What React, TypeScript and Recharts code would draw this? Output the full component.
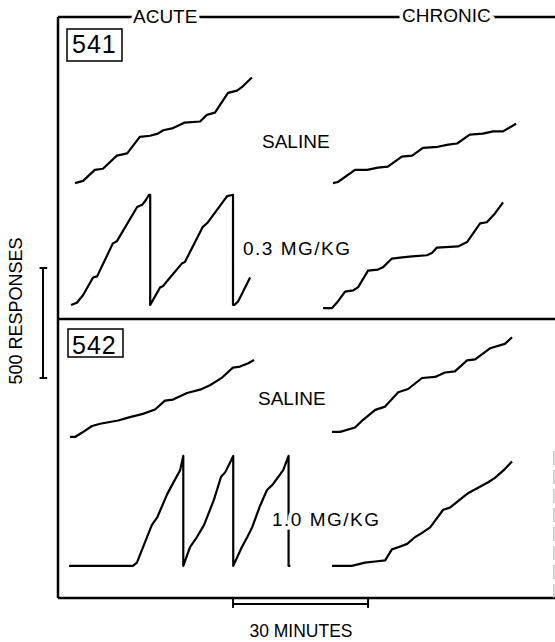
import { Line, LineChart, ReferenceLine, XAxis, YAxis } from "recharts";

// cumulative records: [minutes since record start, responses since last pen reset]
const acuteSaline541: [number, number][] = [
  [0, 0], [1.8, 10], [4.4, 60], [6.2, 65], [9.3, 125], [11.6, 135], [14.4, 210],
  [16.7, 215], [18.4, 225], [19.6, 240], [21.8, 250], [24.4, 275], [27.8, 280],
  [29.3, 310], [31.1, 320], [34.0, 410], [36.0, 420], [37.3, 440], [39.3, 480],
];
const chronicSaline541: [number, number][] = [
  [0, 0], [1.1, 5], [4.9, 60], [7.6, 60], [10.0, 70], [12.2, 75], [15.3, 120],
  [17.6, 125], [20.0, 160], [23.3, 165], [25.6, 175], [27.6, 180], [30.4, 220],
  [33.3, 225], [35.6, 235], [37.8, 235], [40.7, 270],
];
const acuteDose541: [number, number][] = [
  [0, 0], [1.3, 10], [2.7, 45], [4.9, 125], [5.8, 130], [9.3, 280], [10.2, 290],
  [14.7, 445], [15.8, 455], [16.4, 470], [17.3, 500], [17.6, 500], [17.6, 0],
  [19.8, 80], [20.4, 85], [24.7, 190], [25.3, 195], [29.3, 355], [30.4, 375],
  [34.7, 495], [35.8, 500], [36.0, 500], [36.0, 0], [36.3, 0], [37.1, 15], [39.8, 125],
];
const chronicDose541: [number, number][] = [
  [0, 0], [2.0, 0], [3.1, 25], [4.9, 75], [6.7, 80], [7.8, 95], [10.0, 170],
  [12.2, 175], [13.3, 185], [15.3, 225], [17.6, 230], [19.8, 235], [23.1, 240],
  [24.2, 250], [25.3, 275], [30.0, 280], [32.0, 300], [34.9, 385], [36.4, 390],
  [38.2, 430], [40.0, 480],
];
const acuteSaline542: [number, number][] = [
  [0, 0], [1.1, 0], [2.7, 20], [4.9, 50], [6.7, 60], [10.7, 75], [13.3, 90],
  [16.2, 105], [18.9, 125], [21.1, 165], [22.9, 170], [26.0, 200], [28.9, 215],
  [31.1, 235], [33.8, 270], [36.2, 315], [37.8, 320], [39.6, 335], [40.9, 350],
];
const chronicSaline542: [number, number][] = [
  [0, 0], [1.8, 0], [5.1, 20], [6.9, 55], [9.6, 100], [11.8, 115], [14.7, 180],
  [16.9, 195], [20.0, 245], [22.9, 250], [25.1, 270], [27.3, 275], [30.0, 325],
  [31.8, 330], [35.1, 380], [38.4, 400], [40.0, 430],
];
const acuteDose542: [number, number][] = [
  [0, 0], [14.2, 0], [15.1, 15], [18.4, 185], [19.6, 220], [21.8, 325], [23.1, 375],
  [24.7, 435], [25.4, 500], [25.4, 0], [26.9, 85], [28.4, 130], [30.0, 185],
  [32.2, 300], [33.8, 405], [34.7, 425], [35.8, 470], [36.5, 500], [36.5, 0],
  [38.4, 85], [39.6, 130], [40.7, 175], [42.4, 270], [44.0, 345], [45.3, 370],
  [47.6, 435], [48.8, 500], [48.8, 0], [49.2, 0],
];
const chronicDose542: [number, number][] = [
  [0, 0], [4.4, 0], [7.3, 15], [9.6, 20], [11.8, 25], [13.3, 75], [14.7, 85],
  [16.7, 100], [18.4, 130], [20.0, 150], [21.8, 175], [24.7, 255], [26.2, 265],
  [29.6, 320], [30.2, 330], [34.7, 380], [36.2, 400], [38.4, 440], [40.0, 475],
];

// where each pen starts on the sheet: [minutes from left edge, responses above bottom edge]
const records = [
  { key: "a541s", points: acuteSaline541, start: [3.78, 1886] },
  { key: "c541s", points: chronicSaline541, start: [61.1, 1886] },
  { key: "a541d", points: acuteDose541, start: [2.89, 1332] },
  { key: "c541d", points: chronicDose541, start: [58.9, 1318] },
  { key: "a542s", points: acuteSaline542, start: [2.67, 732] },
  { key: "c542s", points: chronicSaline542, start: [60.9, 755] },
  { key: "a542d", points: acuteDose542, start: [2.44, 146] },
  { key: "c542d", points: chronicDose542, start: [60.9, 146] },
];

const W = 555;
const H = 642;
const margin = { top: 17, right: 0, bottom: 44, left: 58 };
const PX_PER_MIN = 4.5;
const PX_PER_RESP = 0.22;
const X_MAX = (W - margin.left - margin.right) / PX_PER_MIN;
const Y_MAX = (H - margin.top - margin.bottom) / PX_PER_RESP;

const font = "'Liberation Sans', Arial, Helvetica, sans-serif";
const halo = { stroke: "#fff", strokeWidth: 7, paintOrder: "stroke" as const };

export default function App() {
  return (
    <div style={{ position: "absolute", left: 0, top: 0, width: W, height: H, background: "#fff" }}>
      <LineChart width={W} height={H} margin={margin}>
        <XAxis type="number" dataKey="x" domain={[0, X_MAX]} allowDataOverflow hide />
        <YAxis type="number" domain={[0, Y_MAX]} allowDataOverflow hide />
        {/* frame */}
        <ReferenceLine x={0} stroke="#000" strokeWidth={2.5} ifOverflow="visible" />
        <ReferenceLine y={0} stroke="#000" strokeWidth={2.5} ifOverflow="visible" />
        <ReferenceLine y={Y_MAX} stroke="#000" strokeWidth={2.5} ifOverflow="visible" />
        <ReferenceLine y={1268} stroke="#000" strokeWidth={2.5} />
        <ReferenceLine
          segment={[{ x: 110.2, y: 0 }, { x: 110.2, y: 673 }]}
          stroke="#aaa"
          strokeWidth={1}
          strokeDasharray="14 5"
          ifOverflow="visible"
        />
        {/* 500 responses scale bar */}
        <ReferenceLine segment={[{ x: -3.33, y: 1000 }, { x: -3.33, y: 1500 }]} stroke="#000" strokeWidth={2} ifOverflow="visible" />
        <ReferenceLine segment={[{ x: -4.1, y: 1500 }, { x: -2.4, y: 1500 }]} stroke="#000" strokeWidth={2} ifOverflow="visible" />
        <ReferenceLine segment={[{ x: -4.1, y: 1000 }, { x: -2.4, y: 1000 }]} stroke="#000" strokeWidth={2} ifOverflow="visible" />
        {/* 30 minutes scale bar */}
        <ReferenceLine segment={[{ x: 38.9, y: -27 }, { x: 68.9, y: -27 }]} stroke="#000" strokeWidth={2} ifOverflow="visible" />
        <ReferenceLine segment={[{ x: 38.9, y: 0 }, { x: 38.9, y: -45 }]} stroke="#000" strokeWidth={2} ifOverflow="visible" />
        <ReferenceLine segment={[{ x: 68.9, y: 0 }, { x: 68.9, y: -45 }]} stroke="#000" strokeWidth={2} ifOverflow="visible" />
        {records.map((rec) => (
          <Line
            key={rec.key}
            data={rec.points.map(([t, r]) => ({ x: rec.start[0] + t, y: rec.start[1] + r }))}
            dataKey="y"
            type="linear"
            stroke="#000"
            strokeWidth={2.2}
            strokeLinejoin="round"
            dot={false}
            activeDot={false}
            isAnimationActive={false}
          />
        ))}
      </LineChart>
      <svg
        width={W}
        height={H}
        style={{ position: "absolute", left: 0, top: 0, pointerEvents: "none" }}
        fontFamily={font}
        fill="#000"
      >
        <text x={133} y={23} fontSize={19} {...halo}>ACUTE</text>
        <text x={402} y={22} fontSize={19} {...halo}>CHRONIC</text>

        <rect x={67} y={29} width={55} height={32} fill="none" stroke="#000" strokeWidth={1.5} />
        <text x={72} y={53} fontSize={25} letterSpacing={1}>541</text>
        <rect x={68} y={329} width={55} height={28} fill="none" stroke="#000" strokeWidth={1.5} />
        <text x={72} y={354} fontSize={25} letterSpacing={1}>542</text>

        <text x={262} y={148} fontSize={19}>SALINE</text>
        <text x={243} y={255} fontSize={19} letterSpacing={1.5}>0.3 MG/KG</text>
        <text x={258} y={405} fontSize={19}>SALINE</text>
        <text x={272} y={526} fontSize={19} letterSpacing={1.5} {...halo}>1.0 MG/KG</text>

        <text x={22} y={311} fontSize={18} textAnchor="middle" transform="rotate(-90 22 311)">
          500 RESPONSES
        </text>
        <text x={301} y={637} fontSize={17.5} textAnchor="middle">30 MINUTES</text>
      </svg>
    </div>
  );
}
